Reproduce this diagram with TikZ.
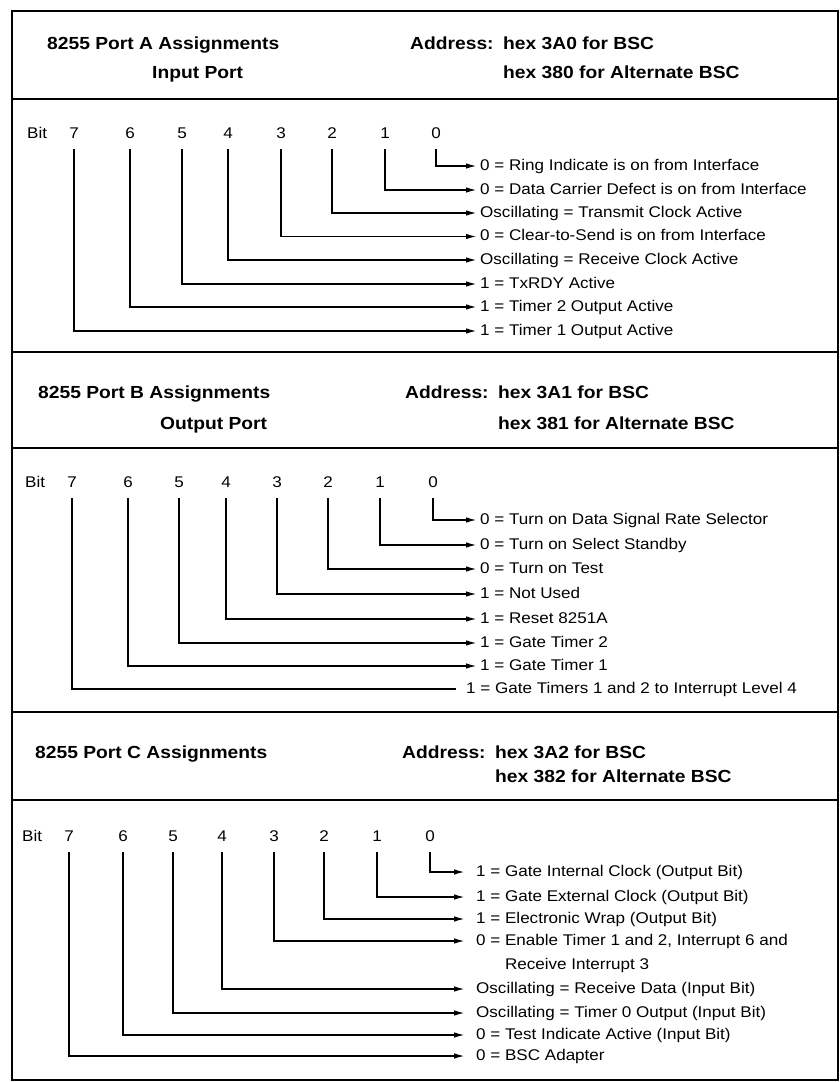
\documentclass[tikz,border=0pt]{standalone}
\usepackage{fontspec}
\setmainfont{Liberation Sans}
\newfontfamily\bodyfont[FakeStretch=1.1]{Liberation Sans}
\newfontfamily\headfont[FakeStretch=1.1]{Liberation Sans}
\usetikzlibrary{arrows.meta}
\tikzset{
  frameline/.style={line width=2pt},
  conn/.style={line width=1.6pt, -{Latex[length=11pt,width=5.5pt]}, shorten <=10.5pt},
  plainconn/.style={line width=1.6pt, shorten <=10.5pt},
  hd/.style={anchor=base west, inner sep=0pt, font=\headfont\bfseries\fontsize{17.5}{20}\selectfont},
  bitnum/.style={anchor=base, inner sep=0pt, font=\bodyfont\fontsize{15.5}{18}\selectfont},
  bitword/.style={anchor=base west, inner sep=0pt, font=\bodyfont\fontsize{15.5}{18}\selectfont},
  lbl/.style={anchor=west, inner sep=0pt, text height=11pt, text depth=3pt, font=\bodyfont\fontsize{15.5}{18}\selectfont}
}
\begin{document}
\begin{tikzpicture}[x=1pt,y=-1pt]
\useasboundingbox (0,0) rectangle (840,1082);
% frame and separators
\draw[frameline] (12,11) rectangle (838,1080);
\draw[frameline] (12,99) -- (838,99);
\draw[frameline] (12,352) -- (838,352);
\draw[frameline] (12,448) -- (838,448);
\draw[frameline] (12,712) -- (838,712);
\draw[frameline] (12,800) -- (838,800);

% ---------- Port A header ----------
\node[hd] (hA1) at (47,49) {8255 Port A Assignments};
\node[hd] (hA2) at (152,78) {Input Port};
\node[hd] (adA) at (410,49) {Address:};
\node[hd] (hexA1) at (503,49) {hex 3A0 for BSC};
\node[hd] (hexA2) at (503,78) {hex 380 for Alternate BSC};

% ---------- Port A body ----------
\node[bitword] (bitA) at (27,138.5) {Bit};
\foreach \b/\x in {7/74,6/130,5/182,4/228,3/281,2/332,1/385,0/436}
  \node[bitnum] (a\b) at (\x,138.5) {\b};
\foreach \b/\y/\t in {
  0/166/{0 = Ring Indicate is on from Interface},
  1/190/{0 = Data Carrier Defect is on from Interface},
  2/213/{Oscillating = Transmit Clock Active},
  3/236.5/{0 = Clear-to-Send is on from Interface},
  4/260/{Oscillating = Receive Clock Active},
  5/284/{1 = TxRDY Active},
  6/307/{1 = Timer 2 Output Active},
  7/331/{1 = Timer 1 Output Active}}{
  \node[lbl] (ta\b) at (480,\y) {\t};
  \draw[conn] (a\b.south) |- ([xshift=-3pt]ta\b.west);
}

% ---------- Port B header ----------
\node[hd] (hB1) at (38,398) {8255 Port B Assignments};
\node[hd] (hB2) at (160,429) {Output Port};
\node[hd] (adB) at (405,398) {Address:};
\node[hd] (hexB1) at (498,398) {hex 3A1 for BSC};
\node[hd] (hexB2) at (498,429) {hex 381 for Alternate BSC};

% ---------- Port B body ----------
\node[bitword] (bitB) at (25,487.5) {Bit};
\foreach \b/\x in {7/72,6/128,5/179,4/226,3/277,2/328,1/380,0/433}
  \node[bitnum] (b\b) at (\x,487.5) {\b};
\foreach \b/\y/\t in {
  0/520/{0 = Turn on Data Signal Rate Selector},
  1/545/{0 = Turn on Select Standby},
  2/569/{0 = Turn on Test},
  3/594/{1 = Not Used},
  4/619/{1 = Reset 8251A},
  5/643/{1 = Gate Timer 2},
  6/666/{1 = Gate Timer 1}}{
  \node[lbl] (tb\b) at (480,\y) {\t};
  \draw[conn] (b\b.south) |- ([xshift=-3pt]tb\b.west);
}
\node[lbl] (tb7) at (466,689) {1 = Gate Timers 1 and 2 to Interrupt Level 4};
\draw[plainconn] (b7.south) |- ([xshift=-10pt]tb7.west);

% ---------- Port C header ----------
\node[hd] (hC1) at (35,758) {8255 Port C Assignments};
\node[hd] (adC) at (402,758) {Address:};
\node[hd] (hexC1) at (495,758) {hex 3A2 for BSC};
\node[hd] (hexC2) at (495,782) {hex 382 for Alternate BSC};

% ---------- Port C body ----------
\node[bitword] (bitC) at (22,841.5) {Bit};
\foreach \b/\x in {7/69,6/123,5/173,4/222,3/274,2/324,1/377,0/430}
  \node[bitnum] (c\b) at (\x,841.5) {\b};
\foreach \b/\y/\t in {
  0/872/{1 = Gate Internal Clock (Output Bit)},
  1/897/{1 = Gate External Clock (Output Bit)},
  2/919/{1 = Electronic Wrap (Output Bit)},
  3/941/{0 = Enable Timer 1 and 2, Interrupt 6 and},
  4/989/{Oscillating = Receive Data (Input Bit)},
  5/1013/{Oscillating = Timer 0 Output (Input Bit)},
  6/1035/{0 = Test Indicate Active (Input Bit)},
  7/1056/{0 = BSC Adapter}}{
  \node[lbl] (tc\b) at (476,\y) {\t};
  \draw[conn] (c\b.south) |- ([xshift=-11pt]tc\b.west);
}
\node[lbl] (tc3b) at (476,965) {\phantom{0 = }Receive Interrupt 3};
\end{tikzpicture}
\end{document}
